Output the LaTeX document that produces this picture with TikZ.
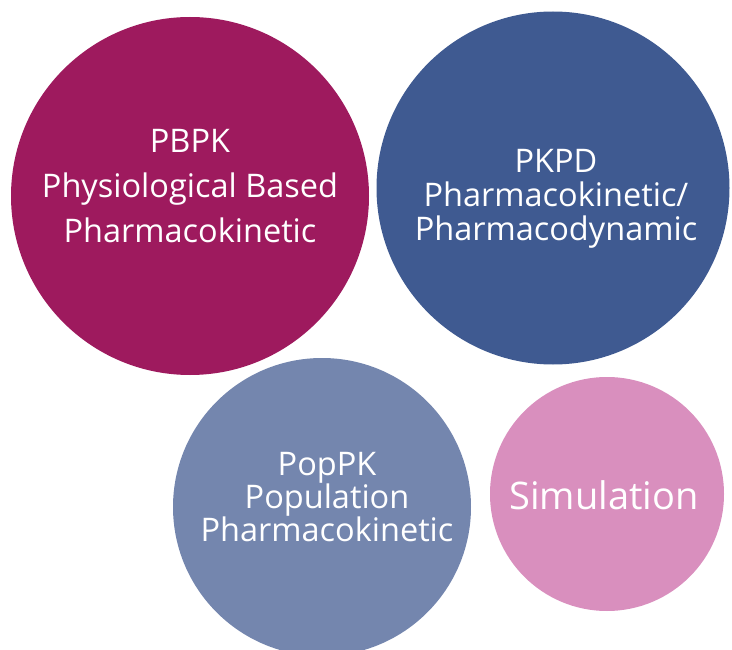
\documentclass[tikz,border=0pt]{standalone}
\usepackage{fontspec}
\setmainfont{Open Sans}
\usepackage{tikz}

\definecolor{pbpkcol}{HTML}{9E1A5E}
\definecolor{pkpdcol}{HTML}{3F5A91}
\definecolor{popcol}{HTML}{7486AE}
\definecolor{simcol}{HTML}{D98FBE}

\tikzset{
    bubble/.style = {circle, inner sep=0pt},
    bubbletext/.style = {text=white, align=center, inner sep=0pt}
}

\begin{document}
\begin{tikzpicture}[x=1pt, y=-1pt]
        \useasboundingbox (0,0) rectangle (732,650);

        \node[bubble, fill=pbpkcol, minimum size=358] (pbpk) at (190,196) {};
        \node[bubble, fill=pkpdcol, minimum size=353] (pkpd) at (553,188) {};
        \node[bubble, fill=popcol, minimum size=298] (poppk) at (322,507) {};
        \node[bubble, fill=simcol, minimum size=234] (sim) at (607,494) {};

        \node[bubbletext, font=\fontsize{32.5}{45}\selectfont] (pbpk-text) at (190,186)
            {PBPK\\Physiological Based\\Pharmacokinetic};
        \node[bubbletext, font=\fontsize{32.5}{34}\selectfont] (pkpd-text) at (556,199)
            {PKPD\\Pharmacokinetic/\\Pharmacodynamic};
        \node[bubbletext, font=\fontsize{32.5}{33}\selectfont] (poppk-text) at (327,497)
            {PopPK\\Population\\Pharmacokinetic};
        \node[bubbletext, font=\fontsize{38}{40}\selectfont] (sim-text) at (604,495)
            {Simulation};
    \end{tikzpicture}
\end{document}
